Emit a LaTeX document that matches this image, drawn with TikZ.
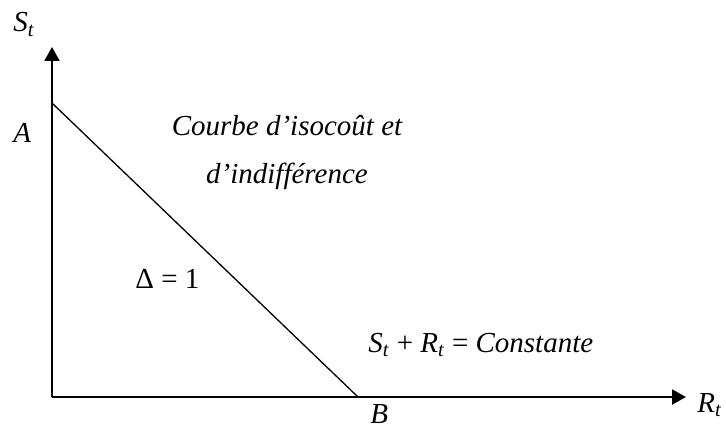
\documentclass[tikz,border=0pt]{standalone}
\usepackage{fontspec}
\setmainfont{Liberation Serif}
\usetikzlibrary{arrows.meta,positioning}

\newcommand{\St}{\textit{S\textsubscript{t}}}
\newcommand{\Rt}{\textit{R\textsubscript{t}}}

\begin{document}
\begin{tikzpicture}[
			x=0.5pt, y=-0.5pt,
			axis/.style={line width=1pt, -{Triangle[length=7pt,width=7.5pt]}},
			budget/.style={line width=0.65pt},
			lbl/.style={inner sep=0pt, anchor=base west, font=\fontsize{14.5}{24}\selectfont}
		]
		\useasboundingbox (0,0) rectangle (726,427);

		% axes and budget line
		\coordinate (O) at (52,397);
		\coordinate (Ytop) at (52,47);
		\coordinate (Xend) at (686,397);
		\coordinate (A) at (52,103);
		\coordinate (B) at (358,397);

		\draw[axis] (O) -- (Ytop);
		\draw[axis] (O) -- (Xend);
		\draw[budget] (A) -- (B);

		% labels
		\node[lbl] (lblS) at (13,32) {\St};
		\node[lbl] (lblA) at (13,143) {\textit{A}};
		\node[lbl] (lblB) at (370,423) {\textit{B}};
		\node[lbl] (lblR) at (697,412) {\Rt};
		\node[lbl] (delta) at (135,288) {Δ = 1};
		\node[lbl] (somme) at (368,352) {\St{} + \Rt{} = \textit{Constante}};
		\node[inner sep=0pt, align=center, font=\fontsize{14.5}{24}\selectfont\itshape] (courbe) at (287,153)
			{Courbe d’isocoût et\\d’indifférence};
	\end{tikzpicture}
\end{document}
